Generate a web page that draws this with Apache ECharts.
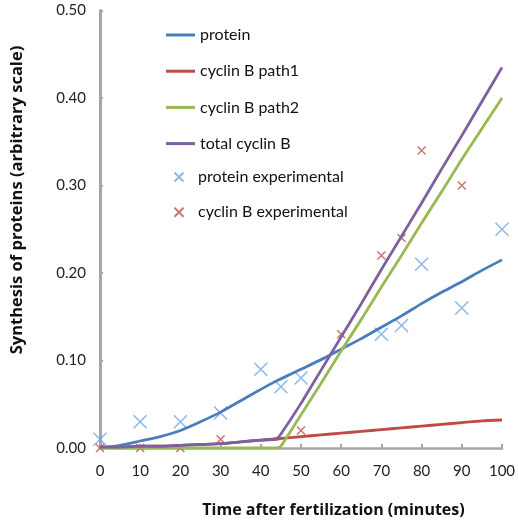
<html>
    <head>
        <meta charset="utf-8">
        <script src="https://cdn.jsdelivr.net/npm/echarts@6/dist/echarts.min.js"></script>
    </head>
    <body style="margin:0">
        <style>
            html, body, #main {
                width: 518px;
                height: 521px;
            }
        </style>
        <div id="main"></div>
        <script>
            // model curves, sampled at these times (minutes)
            var modelTimes = [0, 5, 10, 15, 20, 25, 30, 35, 40, 44, 45, 50, 55, 60, 65, 70, 75, 80, 85, 90, 95, 100];
            var protein =     [0.000, 0.003, 0.008, 0.013, 0.020, 0.030, 0.041, 0.054, 0.067, 0.077, 0.079, 0.090, 0.101, 0.113, 0.125, 0.138, 0.151, 0.165, 0.178, 0.190, 0.203, 0.215];
            var cyclinPath1 = [0.001, 0.001, 0.002, 0.002, 0.003, 0.004, 0.005, 0.007, 0.009, 0.010, 0.011, 0.013, 0.015, 0.017, 0.019, 0.021, 0.023, 0.025, 0.027, 0.029, 0.031, 0.032];
            var cyclinPath2 = [0, 0, 0, 0, 0, 0, 0, 0, 0, 0, 0.002, 0.038, 0.074, 0.111, 0.147, 0.184, 0.220, 0.257, 0.293, 0.330, 0.365, 0.400];
            var totalCyclin = [0.001, 0.001, 0.002, 0.002, 0.003, 0.004, 0.005, 0.007, 0.009, 0.011, 0.016, 0.051, 0.089, 0.127, 0.165, 0.204, 0.242, 0.280, 0.319, 0.357, 0.396, 0.435];

            // experimental points
            var proteinExpTimes = [0, 10, 20, 30, 40, 45, 50, 70, 75, 80, 90, 100];
            var proteinExp =      [0.01, 0.03, 0.03, 0.04, 0.09, 0.07, 0.08, 0.13, 0.14, 0.21, 0.16, 0.25];
            var cyclinExpTimes = [0, 10, 20, 30, 50, 60, 70, 75, 80, 90];
            var cyclinExp =      [0.00, 0.00, 0.00, 0.01, 0.02, 0.13, 0.22, 0.24, 0.34, 0.30];

            var font = 'Lato, "Open Sans", sans-serif';
            var titleFont = '"Open Sans", sans-serif';
            var cross = 'path://M0,0L10,10M10,0L0,10';

            function pairs(xs, ys) {
                return xs.map(function (x, i) { return [x, ys[i]]; });
            }

            function modelLine(name, values, color) {
                return {
                    name: name,
                    type: 'line',
                    data: pairs(modelTimes, values),
                    symbol: 'none',
                    smooth: 0.2,
                    lineStyle: { color: color, width: 2.8 },
                    itemStyle: { color: color }
                };
            }

            function expPoints(name, xs, ys, color, size) {
                return {
                    name: name,
                    type: 'scatter',
                    data: pairs(xs, ys),
                    symbol: cross,
                    symbolSize: size,
                    itemStyle: { color: 'none', borderColor: color, borderWidth: 1.5 }
                };
            }

            var legendText = { fontSize: 16, lineHeight: 18, color: '#111', fontFamily: font };

            var chart = echarts.init(document.getElementById('main'));

            chart.setOption({
                animation: false,
                textStyle: { fontFamily: font },
                legend: [{
                    orient: 'vertical',
                    left: 161,
                    top: 21,
                    icon: 'rect',
                    itemWidth: 29,
                    itemHeight: 3,
                    itemGap: 18.2,
                    textStyle: legendText,
                    data: ['protein', 'cyclin B path1', 'cyclin B path2', 'total cyclin B']
                }, {
                    orient: 'vertical',
                    left: 167,
                    top: 163,
                    itemWidth: 28,
                    itemHeight: 9,
                    itemGap: 17.2,
                    textStyle: legendText,
                    data: ['protein experimental', 'cyclin B experimental']
                }],
                graphic: [{
                    type: 'text',
                    x: 17,
                    y: 200,
                    rotation: Math.PI / 2,
                    style: {
                        text: 'Synthesis of proteins (arbitrary scale)',
                        font: 'bold 16.5px "Open Sans", sans-serif',
                        fill: '#111',
                        align: 'center',
                        verticalAlign: 'middle'
                    }
                }],
                grid: { left: 100, right: 16, top: 10.5, bottom: 73, outerBoundsMode: 'none' },
                xAxis: {
                    type: 'value',
                    min: 0,
                    max: 100,
                    interval: 10,
                    name: 'Time after fertilization (minutes)',
                    nameLocation: 'middle',
                    nameGap: 54,
                    nameTextStyle: { fontSize: 16, fontWeight: 'bold', color: '#111', fontFamily: titleFont, padding: [0, 0, 0, 65] },
                    axisLine: { lineStyle: { color: '#a6a6a6', width: 2.5 } },
                    axisTick: { inside: true, length: 4, lineStyle: { color: '#a6a6a6', width: 2 } },
                    axisLabel: { fontSize: 15, color: '#222', margin: 16 },
                    splitLine: { show: false }
                },
                yAxis: {
                    type: 'value',
                    min: 0,
                    max: 0.5,
                    interval: 0.1,
                    axisLine: { show: true, lineStyle: { color: '#a6a6a6', width: 3 } },
                    axisTick: { show: true, inside: true, length: 3, lineStyle: { color: '#a6a6a6', width: 2 } },
                    axisLabel: {
                        fontSize: 15,
                        color: '#222',
                        margin: 14,
                        formatter: function (v) { return v.toFixed(2); }
                    },
                    splitLine: { show: false }
                },
                series: [
                    modelLine('protein', protein, '#4a7ebb'),
                    modelLine('cyclin B path1', cyclinPath1, '#be4b48'),
                    modelLine('cyclin B path2', cyclinPath2, '#98b954'),
                    modelLine('total cyclin B', totalCyclin, '#7d60a0'),
                    expPoints('protein experimental', proteinExpTimes, proteinExp, '#6ea6e4', 13),
                    expPoints('cyclin B experimental', cyclinExpTimes, cyclinExp, '#c0504d', 8)
                ]
            });
        </script>
    </body>
</html>
